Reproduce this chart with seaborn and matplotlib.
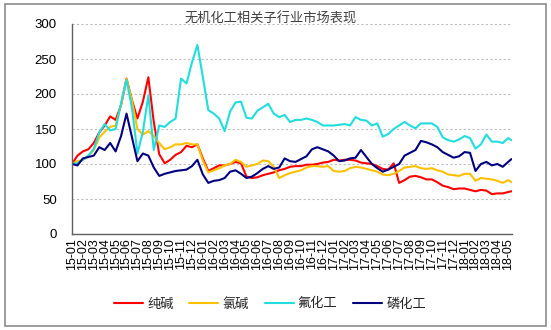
import numpy as np
import pandas as pd
import matplotlib
matplotlib.use("Agg")
import matplotlib.pyplot as plt
import seaborn as sns
from matplotlib.patches import Rectangle

# time axis in months since 2015-01 (semi-monthly samples)
months = np.append(np.arange(0, 40.01, 0.5), 40.3)
tick_labels = [f"{15 + i // 12:02d}-{i % 12 + 1:02d}" for i in range(41)]

chunjian = [100, 112, 118, 121, 130, 145, 155, 168, 163, 184, 222, 191, 165, 189, 224, 160, 114,
            101, 106, 113, 117, 126, 124, 128, 108, 90, 94, 98, 98, 100, 103, 101, 82,
            80, 81, 84, 86, 88, 91, 93, 96, 97, 97, 99, 99, 100, 102, 103, 106,
            105, 106, 106, 105, 102, 101, 100, 97, 93, 92, 101, 73, 77, 82, 83, 81,
            78, 78, 74, 69, 67, 64, 65, 65, 63, 61, 63, 62, 57, 58, 58, 60,
            61]
lvjian = [100, 104, 106, 111, 120, 138, 146, 153, 155, 185, 222, 190, 150, 142, 147, 140, 130,
          121, 124, 128, 128, 130, 128, 128, 105, 88, 91, 94, 98, 100, 106, 103, 96,
          98, 100, 105, 104, 96, 80, 84, 87, 89, 91, 95, 97, 97, 96, 97, 90,
          89, 90, 94, 96, 95, 93, 91, 89, 85, 84, 86, 90, 95, 96, 97, 94,
          93, 94, 91, 89, 85, 84, 83, 86, 86, 76, 80, 79, 78, 76, 73, 77,
          74]
fuhuagong = [100, 101, 106, 112, 122, 145, 157, 148, 150, 187, 220, 180, 115, 146, 198, 120, 155,
             153, 160, 165, 222, 215, 245, 270, 224, 177, 172, 165, 147, 175, 188, 189, 166,
             165, 176, 181, 186, 172, 167, 170, 160, 163, 163, 165, 163, 160, 155, 155, 155,
             156, 157, 155, 167, 163, 162, 155, 158, 139, 143, 150, 155, 160, 155, 151, 158,
             158, 158, 153, 138, 134, 132, 135, 140, 137, 122, 128, 142, 132, 132, 130, 137,
             134]
linhuagong = [100, 98, 108, 110, 112, 124, 120, 130, 118, 140, 172, 138, 104, 115, 112, 95, 83,
              86, 88, 90, 91, 92, 97, 106, 85, 73, 76, 77, 80, 89, 91, 86, 80,
              82, 87, 93, 97, 93, 95, 108, 104, 103, 107, 111, 121, 124, 121, 118, 112,
              104, 105, 108, 109, 120, 110, 100, 94, 89, 92, 96, 100, 112, 116, 120, 133,
              131, 128, 124, 117, 113, 109, 111, 117, 116, 90, 100, 103, 98, 100, 96, 103,
              107]

series_names = ["纯碱", "氯碱", "氟化工", "磷化工"]
series_values = [chunjian, lvjian, fuhuagong, linhuagong]
series_colors = ["#FF0000", "#FFC000", "#22DDDD", "#000080"]
title = "无机化工相关子行业市场表现"

sns.set_theme(style="white")
plt.rcParams["font.family"] = ["Liberation Sans", "Noto Sans CJK SC", "DejaVu Sans"]

W, H = 551, 330
fig = plt.figure(figsize=(W / 100, H / 100), dpi=100)
ax = fig.add_axes([72 / W, 1 - 234 / H, 440 / W, 210 / H])

for name, vals, col in zip(series_names, series_values, series_colors):
    sns.lineplot(x=months, y=vals, color=col, lw=1.5, label=name, ax=ax, legend=False)

ax.set_xlim(0, 40.35)
ax.set_ylim(0, 300)
ax.set_yticks(range(0, 301, 50))
ax.set_xticks(range(41))
ax.set_xticklabels(tick_labels, rotation=90, fontsize=9)
ax.tick_params(axis="y", labelsize=9.5, length=3, width=0.8, direction="out", pad=8,
               color="#606060", labelcolor="black")
ax.tick_params(axis="x", length=3, width=0.8, direction="in", pad=3, color="#606060",
               labelcolor="black")
ax.yaxis.grid(True, linestyle=(0, (2, 2)), color="#BFBFBF", lw=0.8)
ax.set_axisbelow(True)
for s in ["top", "right"]:
    ax.spines[s].set_visible(False)
for s in ["left", "bottom"]:
    ax.spines[s].set_color("#606060")
    ax.spines[s].set_linewidth(1.0)
ax.set_xlabel("")
ax.set_ylabel("")

handles, labels = ax.get_legend_handles_labels()
fig.legend(handles, labels, loc="center", bbox_to_anchor=(270 / W, 1 - 304 / H), ncol=4,
           frameon=False, prop={"family": ["Noto Sans CJK SC"], "size": 9.5},
           handlelength=2.2, handletextpad=0.3, columnspacing=1.2)

fig.text(271 / W, 1 - 19 / H, title, ha="center", va="center", fontsize=9.5,
         color="#404040", family=["Noto Sans CJK SC"])

fig.patches.append(Rectangle((5 / W, 4 / H), 541 / W, 322 / H, transform=fig.transFigure,
                             fill=False, edgecolor="#8C8C8C", lw=1.2))

fig.savefig("out.png", dpi=100)
